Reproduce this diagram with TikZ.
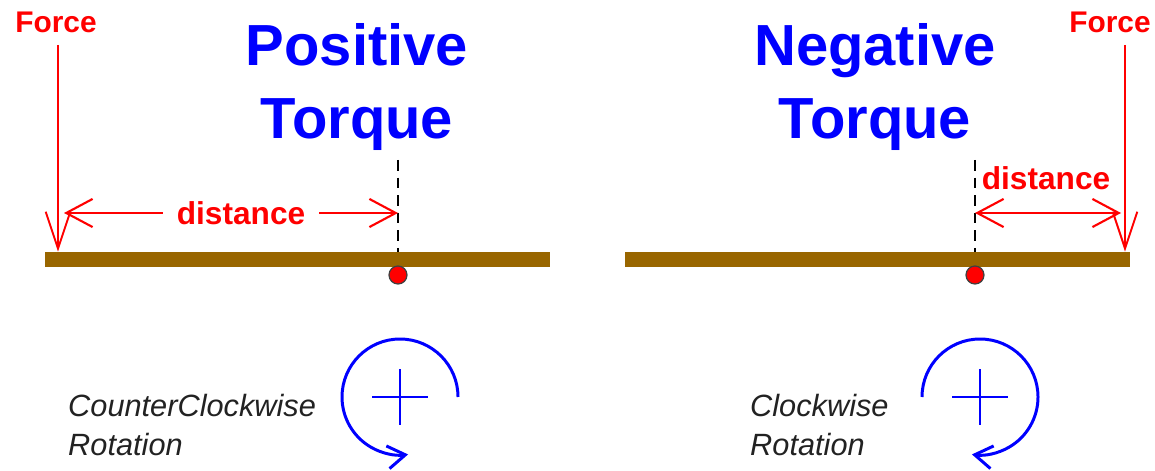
\documentclass[tikz,border=0pt]{standalone}
\usepackage{fontspec}
\setmainfont{Liberation Sans}
\usetikzlibrary{arrows.meta,positioning}

\definecolor{beamcol}{RGB}{153,102,0}
\definecolor{txtgray}{RGB}{34,34,34}

\begin{document}
\begin{tikzpicture}[x=0.02cm,y=0.02cm,
 beam/.style={fill=beamcol,draw=none,minimum width=10.1cm,minimum height=0.3cm,inner sep=0pt},
 pivot/.style={circle,fill=red,draw=black!75,line width=0.7pt,minimum size=0.36cm,inner sep=0pt},
 title/.style={text=blue,font=\fontsize{33}{41}\selectfont\bfseries,align=center},
 forcelabel/.style={text=red,font=\fontsize{17}{20}\selectfont\bfseries},
 distlabel/.style={text=red,font=\fontsize{18}{20}\selectfont\bfseries},
 rotlabel/.style={text=txtgray,font=\fontsize{17.5}{22.7}\selectfont\itshape,align=left,anchor=west},
 force/.style={red,line width=1.1pt,-{Straight Barb[length=21pt,width=14pt]}},
 dist/.style={red,line width=1.2pt,{Straight Barb[length=15pt,width=16pt]}-{Straight Barb[length=15pt,width=16pt]}},
 axis/.style={black,line width=1.1pt,dash pattern=on 6pt off 4pt},
 rot/.style={blue,line width=1.7pt,-{Straight Barb[length=10pt,width=13pt]}},
 cross/.style={blue,line width=1.5pt}]
\useasboundingbox (0,0) rectangle (1155,470);

% left: positive torque
\node[title] (titleL) at (357,383) {Positive\\Torque};
\node[beam] (beamL) at (297.5,210.5) {};
\node[pivot] (pivL) at (398,195) {};
\coordinate (axL) at (398,310);
\draw[axis] (axL) -- (axL |- beamL.north);
\node[forcelabel] (fL) at (56,448) {Force};
\coordinate (fLtop) at (58,425);
\draw[force] (fLtop) -- (fLtop |- beamL.north);
\coordinate (dL) at (64,257);
\draw[dist] (dL) -- node[distlabel,fill=white,inner xsep=8pt,pos=0.53] {distance} (axL |- dL);

% right: negative torque
\node[title] (titleR) at (875,383) {Negative\\Torque};
\node[beam] (beamR) at (877.5,210.5) {};
\node[pivot] (pivR) at (975,195) {};
\coordinate (axR) at (975,310);
\draw[axis] (axR) -- (axR |- beamR.north);
\node[forcelabel] (fR) at (1110,448) {Force};
\coordinate (fRtop) at (1125,425);
\draw[force] (fRtop) -- (fRtop |- beamR.north);
\coordinate (dR) at (1121,257);
\draw[dist] (axR |- dR) -- (dR);
\node[distlabel] (dRl) at (1046,292) {distance};

% rotation symbols
\node[inner sep=0pt] (rotL) at (400,73) {};
\draw[cross] ([xshift=-0.56cm]rotL.center) -- ([xshift=0.56cm]rotL.center)
 ([yshift=-0.56cm]rotL.center) -- ([yshift=0.56cm]rotL.center);
\draw[rot] ([shift={(0:58)}]rotL.center) arc[start angle=0,end angle=278,radius=58];
\node[rotlabel] (ccw) at (62,45) {CounterClockwise\\Rotation};

\node[inner sep=0pt] (rotR) at (980,73) {};
\draw[cross] ([xshift=-0.56cm]rotR.center) -- ([xshift=0.56cm]rotR.center)
 ([yshift=-0.56cm]rotR.center) -- ([yshift=0.56cm]rotR.center);
\draw[rot] ([shift={(180:58)}]rotR.center) arc[start angle=180,end angle=-98,radius=58];
\node[rotlabel] (cw) at (744,45) {Clockwise\\Rotation};
\end{tikzpicture}
\end{document}
